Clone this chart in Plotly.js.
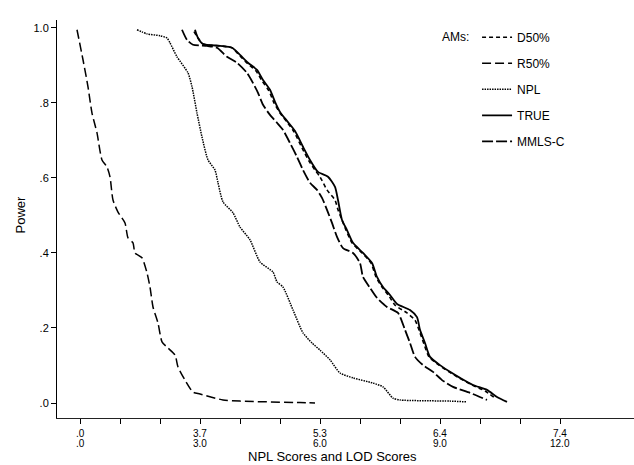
<!DOCTYPE html>
<html>
<head>
<meta charset="utf-8">
<script src="https://cdn.plot.ly/plotly-3.0.1.min.js"></script>
<style>html,body{margin:0;padding:0;background:#fff;}#chart{width:634px;height:465px;}</style>
</head>
<body>
<div id="chart"></div>
<script>
// x values are in LOD-score units of the bottom axis, y values are power
const d50X = [2.85,2.95,3.075,3.5,3.8,4.0,4.2,4.4,4.55,4.725,4.85,5.0,5.175,5.35,5.55,5.725,5.875,6.0,6.175,6.375,6.45,6.55,6.65,6.8,7.05,7.275,7.4,7.55,7.725,7.875,8.175,8.375,8.5,8.6,8.725,8.975,9.225,9.475,9.8,10.125,10.375];
const d50Y = [0.99,0.973,0.957,0.952,0.947,0.925,0.904,0.885,0.859,0.832,0.8,0.773,0.749,0.723,0.68,0.645,0.621,0.603,0.568,0.541,0.515,0.488,0.461,0.427,0.4,0.373,0.336,0.309,0.285,0.261,0.24,0.221,0.187,0.157,0.123,0.101,0.083,0.067,0.048,0.032,0.013];

const r50X = [-0.075,0.075,0.2,0.3,0.425,0.55,0.675,0.75,0.825,0.95,1.125,1.2,1.325,1.375,1.55,1.675,1.75,1.825,1.95,2.05,2.175,2.375,2.45,2.625,2.825,3.0,3.575,4.0,5.5,5.875];
const r50Y = [0.995,0.915,0.843,0.773,0.72,0.648,0.629,0.603,0.541,0.509,0.48,0.44,0.427,0.40,0.387,0.347,0.309,0.256,0.213,0.163,0.149,0.128,0.096,0.061,0.029,0.024,0.008,0.005,0.001,0.0];

const nplX = [1.425,1.675,2.0,2.175,2.25,2.425,2.7,2.8,2.925,3.05,3.2,3.375,3.45,3.575,3.825,4.0,4.25,4.5,4.825,4.925,5.075,5.325,5.575,5.8,6.0,6.25,6.5,6.825,7.325,7.575,7.825,8.0,9.25,9.675];
const nplY = [0.995,0.984,0.979,0.973,0.96,0.923,0.88,0.843,0.773,0.709,0.648,0.621,0.587,0.536,0.507,0.469,0.435,0.376,0.349,0.323,0.309,0.248,0.187,0.16,0.141,0.115,0.08,0.067,0.053,0.043,0.013,0.008,0.005,0.003];

const trueX = [2.875,2.95,3.075,3.5,3.8,4.0,4.2,4.425,4.575,4.75,4.875,5.0,5.175,5.375,5.575,5.75,5.95,6.2,6.375,6.45,6.55,6.675,6.825,7.075,7.3,7.425,7.575,7.75,7.925,8.25,8.425,8.5,8.625,8.75,9.0,9.25,9.5,9.825,10.175,10.425,10.675];
const trueY = [0.995,0.973,0.957,0.952,0.947,0.928,0.907,0.888,0.861,0.835,0.803,0.776,0.752,0.725,0.683,0.648,0.616,0.603,0.576,0.541,0.488,0.461,0.427,0.4,0.373,0.336,0.309,0.288,0.264,0.248,0.229,0.195,0.16,0.123,0.101,0.083,0.067,0.048,0.035,0.016,0.003];

const mmlsX = [2.55,2.675,2.825,3.175,3.425,3.675,3.925,4.175,4.325,4.45,4.575,4.75,4.925,5.075,5.25,5.425,5.575,5.75,5.925,6.05,6.175,6.3,6.425,6.575,6.825,7.0,7.075,7.25,7.425,7.675,7.95,8.125,8.25,8.375,8.575,8.825,9.05,9.325,9.75,10.175];
const mmlsY = [0.995,0.968,0.955,0.952,0.947,0.923,0.907,0.88,0.853,0.827,0.795,0.768,0.747,0.728,0.693,0.656,0.621,0.587,0.568,0.547,0.515,0.48,0.443,0.413,0.4,0.373,0.336,0.307,0.28,0.256,0.24,0.195,0.16,0.123,0.101,0.083,0.061,0.043,0.027,0.008];

const seriesNames = ['D50%','R50%','NPL','TRUE','MMLS-C'];
const xTickVals = [0,1,2,3,4,5,6,7,8,9,10,11,12];
const xLabelPos = [0,3,6,9,12];
const nplLabels = ['.0','3.7','5.3','6.4','7.4'];
const lodLabels = ['.0','3.0','6.0','9.0','12.0'];
const yTickVals = [0,0.2,0.4,0.6,0.8,1.0];
const yTickText = ['.0','.2','.4','.6','.8','1.0'];

const styles = [
  {dash:'4px,3px', width:1.6},
  {dash:'9px,4px', width:1.5},
  {dash:'1.5px,1px', width:1.5},
  {dash:'solid', width:1.8},
  {dash:'11px,3px', width:1.8}
];
const xs = [d50X, r50X, nplX, trueX, mmlsX];
const ys = [d50Y, r50Y, nplY, trueY, mmlsY];

const data = seriesNames.map((n,i)=>({
  type:'scatter', mode:'lines', name:n, x:xs[i], y:ys[i],
  legendgroup:'g'+i,
  line:{color:'#000', width:styles[i].width, dash:styles[i].dash, shape:'spline', smoothing:0.6}
}));

const font = {family:'"Liberation Sans", Arial, Helvetica, sans-serif', color:'#000'};
const annotations = [];
xLabelPos.forEach((p,i)=>{
  annotations.push({x:p, xref:'x', y:0, yref:'paper', yanchor:'middle', yshift:-15, text:nplLabels[i], showarrow:false, font:Object.assign({size:10}, font)});
  annotations.push({x:p, xref:'x', y:0, yref:'paper', yanchor:'middle', yshift:-25, text:lodLabels[i], showarrow:false, font:Object.assign({size:10}, font)});
});
annotations.push({x:6.3, xref:'x', y:0, yref:'paper', yanchor:'middle', yshift:-38, text:'NPL Scores and LOD Scores', showarrow:false, font:Object.assign({size:13}, font)});
annotations.push({x:0, xref:'paper', xshift:-46, y:0.51, yref:'paper', text:'Power', textangle:-90, showarrow:false, font:Object.assign({size:13}, font)});
annotations.push({x:0.717, xref:'paper', y:0.957, yref:'paper', yanchor:'middle', text:'AMs:', showarrow:false, font:Object.assign({size:12}, font)});

const layout = {
  width:634, height:465,
  margin:{l:57, r:0, t:20, b:47},
  paper_bgcolor:'#fff', plot_bgcolor:'#fff',
  font:font,
  showlegend:true,
  legend:{x:0.728, y:0.993, xanchor:'left', yanchor:'top', bgcolor:'rgba(0,0,0,0)', font:Object.assign({size:12}, font), traceorder:'grouped', tracegroupgap:7},
  xaxis:{range:[-0.575,13.85], tickvals:xTickVals, showticklabels:false, ticks:'outside', ticklen:5, tickcolor:'#000', showgrid:false, zeroline:false, showline:true, linecolor:'#222', linewidth:1},
  yaxis:{range:[-0.04,1.021], tickvals:yTickVals, ticktext:yTickText, ticks:'outside', ticklen:5, tickcolor:'#000', showgrid:false, zeroline:false, showline:true, linecolor:'#000', linewidth:1, tickfont:Object.assign({size:11}, font)},
  annotations:annotations
};
Plotly.newPlot('chart', data, layout, {displayModeBar:false, staticPlot:true});
</script>
</body>
</html>
